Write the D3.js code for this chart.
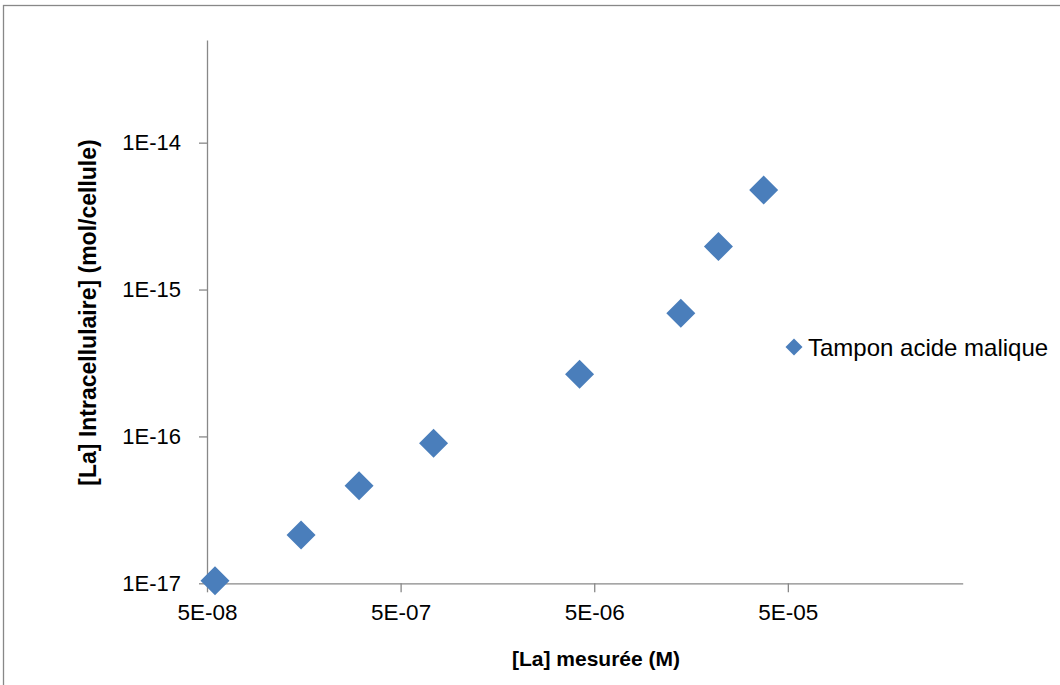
<!DOCTYPE html>
<html>
<head>
<meta charset="utf-8">
<script src="https://cdn.jsdelivr.net/npm/d3@7"></script>
<style>
  html, body { margin: 0; padding: 0; background: #fff; }
  svg { display: block; }
  text { font-family: "Liberation Sans", Arial, sans-serif; fill: #000; }
</style>
</head>
<body>
<svg id="chart" width="1060" height="685"></svg>
<script>
// ---- data ----
const seriesName = "Tampon acide malique";
const xValues = [5.5e-8, 1.53e-7, 3.05e-7, 7.4e-7, 4.2e-6, 1.4e-5, 2.19e-5, 3.75e-5];
const yValues = [1.04e-17, 2.13e-17, 4.62e-17, 8.98e-17, 2.65e-16, 6.89e-16, 1.96e-15, 4.76e-15];
const xTickValues = [5e-8, 5e-7, 5e-6, 5e-5];
const xTickLabels = ["5E-08", "5E-07", "5E-06", "5E-05"];
const yTickValues = [1e-17, 1e-16, 1e-15, 1e-14];
const yTickLabels = ["1E-17", "1E-16", "1E-15", "1E-14"];
const xDomain = [5e-8, 4e-4];
const yDomain = [1e-17, 5e-14];
const xTitle = "[La] mesurée (M)";
const yTitle = "[La] Intracellulaire] (mol/cellule)";

// ---- layout ----
const svg = d3.select("#chart");
const plot = { left: 207, right: 962.7, top: 40, bottom: 583.3 };
const axisColor = "#888888";
const markColor = "#4A7EBB";

// outer frame
svg.append("rect")
  .attr("x", 3.5).attr("y", 5.5).attr("width", 1100).attr("height", 700)
  .attr("fill", "none").attr("stroke", axisColor).attr("stroke-width", 1.3);

const x = d3.scaleLog().domain(xDomain).range([plot.left, plot.right]);
const y = d3.scaleLog().domain(yDomain).range([plot.bottom, plot.top]);

// x axis
const xAxis = d3.axisBottom(x)
  .tickValues(xTickValues)
  .tickFormat((d, i) => xTickLabels[i])
  .tickSizeInner(9).tickSizeOuter(0).tickPadding(12);
const gx = svg.append("g").attr("transform", `translate(0,${plot.bottom})`).call(xAxis);
gx.select(".domain").attr("stroke", axisColor).attr("stroke-width", 1.3);
gx.selectAll(".tick line").attr("stroke", axisColor).attr("stroke-width", 1.3);
gx.selectAll(".tick text").attr("font-size", 22.5).attr("font-family", "Liberation Sans, Arial, sans-serif").attr("fill", "#000");

// y axis
const yAxis = d3.axisLeft(y)
  .tickValues(yTickValues)
  .tickFormat((d, i) => yTickLabels[i])
  .tickSizeInner(8).tickSizeOuter(0).tickPadding(18);
const gy = svg.append("g").attr("transform", `translate(${plot.left},0)`).call(yAxis);
gy.select(".domain").attr("stroke", axisColor).attr("stroke-width", 1.3);
gy.selectAll(".tick line").attr("stroke", axisColor).attr("stroke-width", 1.3);
gy.selectAll(".tick text").attr("font-size", 22).attr("font-family", "Liberation Sans, Arial, sans-serif").attr("fill", "#000");

// axis titles
svg.append("text")
  .attr("x", 596).attr("y", 666)
  .attr("text-anchor", "middle")
  .attr("font-size", 21).attr("font-weight", "bold")
  .text(xTitle);

svg.append("text")
  .attr("transform", `translate(96,${312.5}) rotate(-90)`)
  .attr("text-anchor", "middle")
  .attr("font-size", 23).attr("font-weight", "bold")
  .text(yTitle);

// diamond path
function diamond(cx, cy, r) {
  return `M${cx},${cy - r}L${cx + r},${cy}L${cx},${cy + r}L${cx - r},${cy}Z`;
}

const points = xValues.map((v, i) => ({ x: v, y: yValues[i] }));
svg.append("g").selectAll("path")
  .data(points)
  .join("path")
  .attr("d", d => diamond(x(d.x), y(d.y), 14.5))
  .attr("fill", markColor);

// legend
const legend = svg.append("g").attr("transform", "translate(794,347)");
legend.append("path").attr("d", diamond(0, 0, 8.5)).attr("fill", markColor);
legend.append("text")
  .attr("x", 14).attr("y", 8.5)
  .attr("font-size", 24)
  .text(seriesName);
</script>
</body>
</html>
